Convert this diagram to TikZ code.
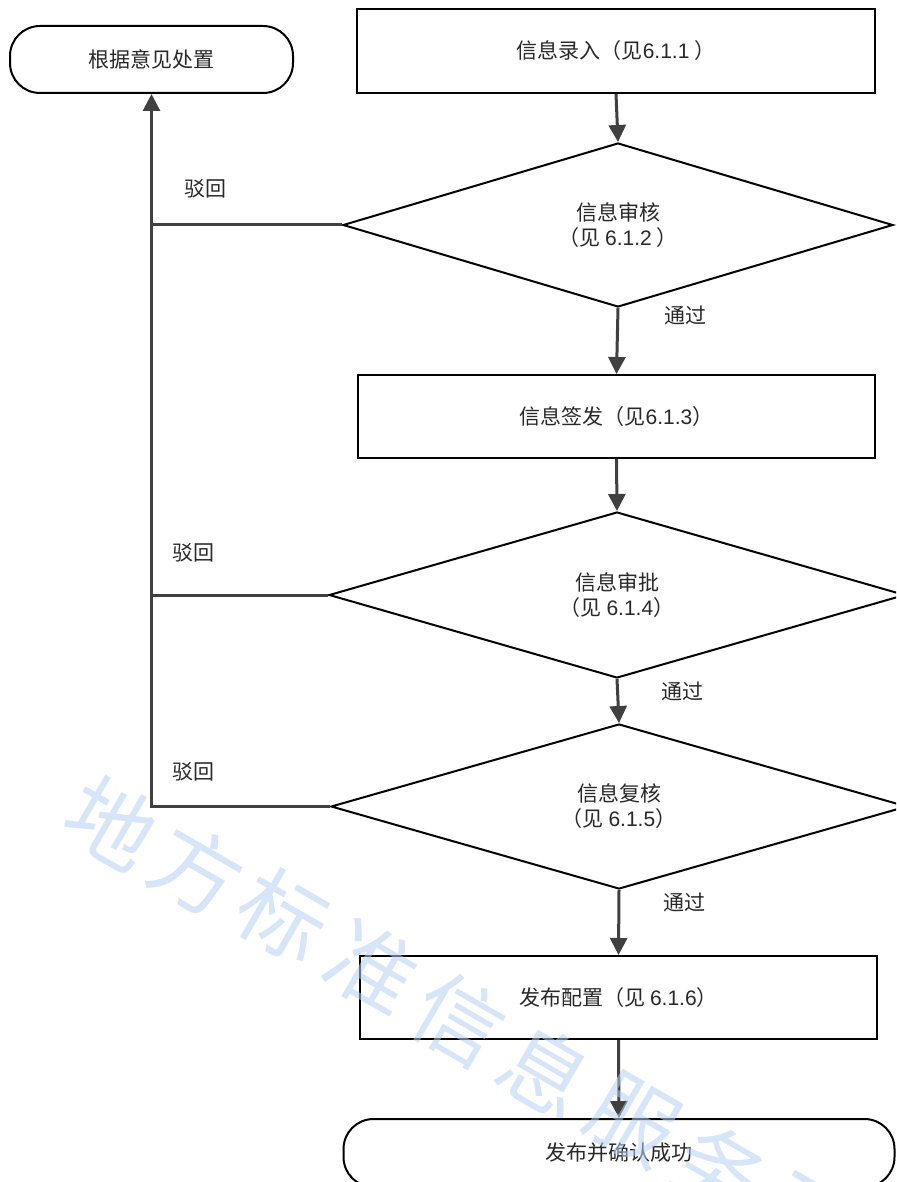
\documentclass[tikz,border=0pt]{standalone}
\usepackage{fontspec}
\setmainfont{Noto Sans CJK SC}
\newfontfamily\lat{Liberation Sans}
\usetikzlibrary{arrows.meta,shapes.geometric}
\definecolor{conn}{RGB}{64,64,64}
\definecolor{wm}{RGB}{180,208,242}
\definecolor{txtc}{RGB}{40,40,40}
\begin{document}
\begin{tikzpicture}[x=1pt,y=-1pt,
  txt/.style={font=\fontsize{21}{25}\selectfont, text=txtc},
  box/.style={draw=black, line width=2pt, rectangle, inner sep=0pt,
              minimum width=#1, minimum height=84pt, txt},
  dia/.style={draw=black, line width=2pt, diamond, aspect=3.4, inner sep=0pt,
              minimum width=#1, minimum height=165pt, align=center, txt},
  term/.style={draw=black, line width=2pt, rectangle, rounded corners=30pt,
               inner sep=0pt, minimum width=#1, minimum height=67pt, txt},
  arr/.style={draw=conn, line width=3pt, -{Triangle[length=17pt,width=17pt]}},
  ln/.style={draw=conn, line width=3pt},
  lab/.style={txt, inner sep=0pt},
  wmk/.style={font=\fontsize{88}{88}\selectfont, text=wm, rotate=-30, opacity=0.55, inner sep=0pt}
]
\useasboundingbox (0,0) rectangle (896,1182);
\clip (0,0) rectangle (896,1182);

\node[term=283pt] (t1) at (151.5,59.5) {根据意见处置};
\node[box=518pt] (b1) at (616,51) {信息录入（见{\lat 6.1.1} ）};
\node[dia=550pt, minimum height=164pt] (d1) at (618,225) {信息审核\\（见 {\lat 6.1.2} ）};
\node[box=517pt, minimum height=83pt] (b2) at (616.5,416.5) {信息签发（见{\lat 6.1.3}）};
\node[dia=576pt, minimum height=166pt] (d2) at (617,595) {信息审批\\（见 {\lat 6.1.4}）};
\node[dia=576pt] (d3) at (619,806.5) {信息复核\\（见 {\lat 6.1.5}）};
\node[box=517pt, minimum height=83pt] (b4) at (618.5,997.5) {发布配置（见 {\lat 6.1.6}）};
\node[term=551pt, minimum height=68pt] (t2) at (619,1153) {发布并确认成功};

\draw[arr] (b1.south) -- (d1.north);
\draw[arr] (d1.south) -- (b2.north);
\draw[arr] (b2.south) -- (d2.north);
\draw[arr] (d2.south) -- (d3.north);
\draw[arr] (d3.south) -- (b4.north);
\draw[arr] (b4.south) -- (t2.north);

\draw[arr] (d3.west) -| (t1.south);
\draw[ln] (d2.west) -- (d2.west -| t1.south);
\draw[ln] (d1.west) -- (d1.west -| t1.south);

\node[lab] (r1) at (205,189) {驳回};
\node[lab] (r2) at (193,553) {驳回};
\node[lab] (r3) at (193,772) {驳回};
\node[lab] (p1) at (685,315) {通过};
\node[lab] (p2) at (682,691) {通过};
\node[lab] (p3) at (684,902) {通过};

\node[wmk] (w1) at (112,823) {地};
\node[wmk] (w2) at (197,870) {方};
\node[wmk] (w3) at (283,915) {标};
\node[wmk] (w4) at (372,968) {准};
\node[wmk] (w5) at (459,1020) {信};
\node[wmk] (w6) at (546,1070) {息};
\node[wmk] (w7) at (633,1120) {服};
\node[wmk] (w8) at (720,1170) {务};
\node[wmk] (w9) at (807,1220) {平};
\end{tikzpicture}
\end{document}
